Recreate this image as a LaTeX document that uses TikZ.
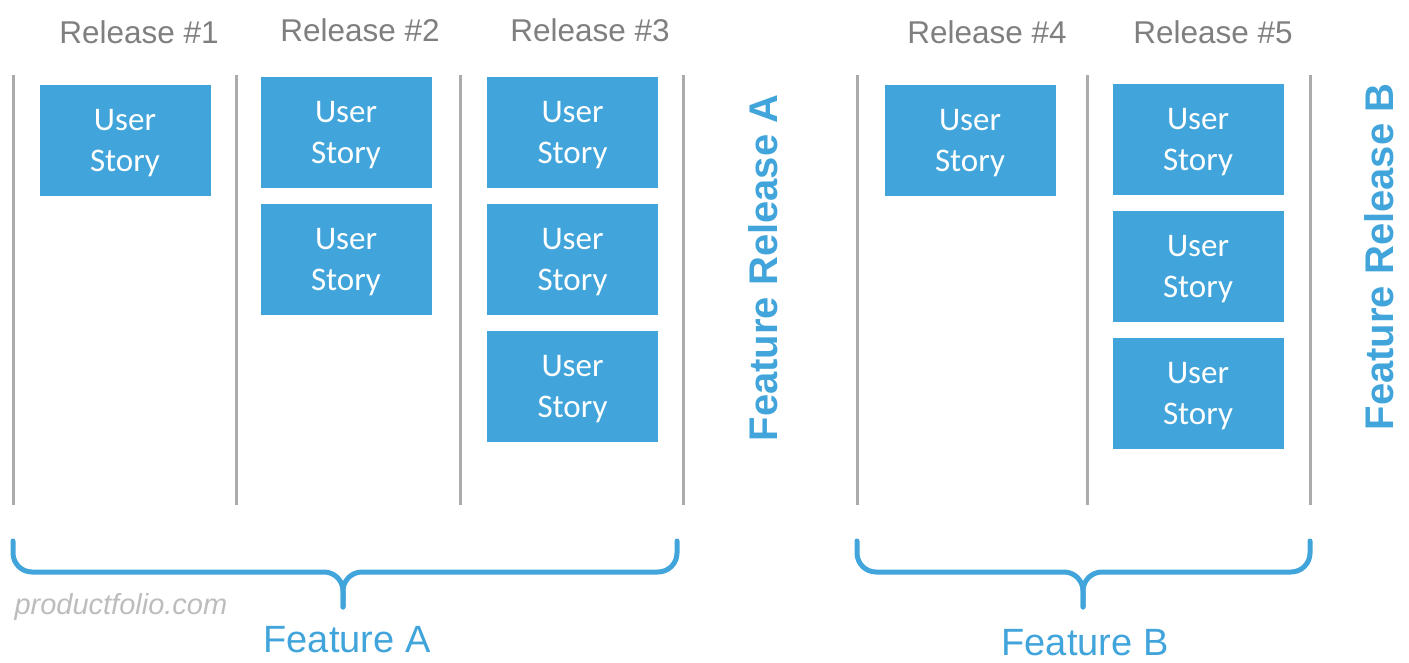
\documentclass[tikz,border=0pt]{standalone}
\usepackage{fontspec}
\setmainfont{Liberation Sans}
\newfontfamily\storyfont{Carlito}
\usepackage{tikz}
\usetikzlibrary{positioning}

\definecolor{storyblue}{HTML}{41A5DB}
\definecolor{labelgray}{HTML}{7F7F7F}
\definecolor{rulegray}{HTML}{ABABAB}
\definecolor{markgray}{HTML}{BDBDBD}

\begin{document}
\begin{tikzpicture}[
    x=1pt, y=-1pt,
    node distance=16pt,
    story/.style={rectangle, fill=storyblue, minimum width=171pt, minimum height=111pt, inner sep=0pt, text depth=0pt, align=center, text=white, font=\storyfont\fontsize{33}{41}\selectfont},
    release/.style={anchor=base, text=labelgray, font=\fontsize{31.5}{36}\selectfont},
    divider/.style={draw=rulegray, line width=3pt},
    brace/.style={draw=storyblue, line width=5pt, line cap=round, rounded corners=19pt},
    feature/.style={text=storyblue, inner sep=0pt, font=\fontsize{38}{44}\selectfont},
    sidelabel/.style={text=storyblue, rotate=90, font=\bfseries\fontsize{40}{48}\selectfont}
]
    \useasboundingbox (0,0) rectangle (1409,662);

    % Column dividers
    \foreach \x in {13,236,460,683,857,1087,1310}
        \draw[divider] (\x,75) -- (\x,505);

    % Release headings
    \node[release] (rel1) at (139,43) {Release \#1};
    \node[release] (rel2) at (360,41) {Release \#2};
    \node[release] (rel3) at (590,41) {Release \#3};
    \node[release] (rel4) at (987,43) {Release \#4};
    \node[release] (rel5) at (1213,43) {Release \#5};

    % Stories per release
    \node[story] (s1a) at (125,140.5) {User\\Story};

    \node[story] (s2a) at (346,132) {User\\Story};
    \node[story, below=of s2a] (s2b) {User\\Story};

    \node[story] (s3a) at (572.5,132) {User\\Story};
    \node[story, below=of s3a] (s3b) {User\\Story};
    \node[story, below=of s3b] (s3c) {User\\Story};

    \node[story] (s4a) at (970,140.5) {User\\Story};

    \node[story] (s5a) at (1198,139) {User\\Story};
    \node[story, below=of s5a] (s5b) {User\\Story};
    \node[story, below=of s5b] (s5c) {User\\Story};

    % Feature release labels
    \node[sidelabel] (frA) at (763,268) {Feature Release A};
    \node[sidelabel] (frB) at (1379,257) {Feature Release B};

    % Braces
    \coordinate (tipA) at (343,607);
    \coordinate (tipB) at (1083,607);
    \draw[brace] (13,541) -- (13,572) -- (343,572) -- (tipA);
    \draw[brace] (677,541) -- (677,572) -- (343,572) -- (tipA);
    \draw[brace] (857,541) -- (857,572) -- (1083,572) -- (tipB);
    \draw[brace] (1310,541) -- (1310,572) -- (1083,572) -- (tipB);

    \node[feature] (featA) at (347,640) {Feature A};
    \node[feature] (featB) at (1085,643) {Feature B};

    \node[anchor=base west, text=markgray, font=\itshape\fontsize{29}{33}\selectfont] (site) at (11,614) {productfolio.com};
\end{tikzpicture}
\end{document}
